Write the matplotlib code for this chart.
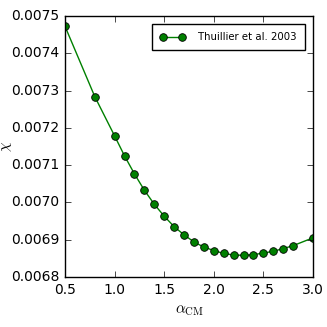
import matplotlib
matplotlib.use('Agg')
import matplotlib.pyplot as plt

plt.style.use('classic')

alpha_cm = [0.5, 0.8, 1.0, 1.1, 1.2, 1.3, 1.4, 1.5, 1.6, 1.7, 1.8, 1.9,
            2.0, 2.1, 2.2, 2.3, 2.4, 2.5, 2.6, 2.7, 2.8, 3.0]
chi = [0.007472, 0.0072837, 0.0071783, 0.0071247, 0.0070764, 0.0070326,
       0.006995, 0.006963, 0.006935, 0.006913, 0.006894, 0.006880,
       0.006871, 0.006863, 0.006859, 0.006858, 0.006860, 0.006864,
       0.006869, 0.006876, 0.006884, 0.006905]

fig = plt.figure(figsize=(3.27, 3.27), dpi=100)
ax = fig.add_axes([0.199, 0.153, 0.758, 0.798])
ax.plot(alpha_cm, chi, 'g-o', markersize=5.5, markeredgecolor='k',
        markeredgewidth=0.6, label='Thuillier et al. 2003')
ax.set_xlim(0.5, 3.0)
ax.set_ylim(0.0068, 0.0075)
ax.set_xticks([0.5, 1.0, 1.5, 2.0, 2.5, 3.0])
ax.set_yticks([0.0068, 0.0069, 0.0070, 0.0071, 0.0072, 0.0073, 0.0074, 0.0075])
ax.yaxis.get_major_formatter().set_useOffset(False)
ax.tick_params(labelsize=10)
ax.set_xlabel(r'$\alpha_{\rm CM}$', fontsize=11)
ax.set_ylabel(r'$\chi$', fontsize=11)
ax.yaxis.set_label_coords(-0.205, 0.5)
ax.legend(loc='upper right', fontsize=7.3, numpoints=2, handlelength=2.5,
          borderpad=0.8, handletextpad=1.3, borderaxespad=0.8)
fig.savefig('out.png', dpi=100)
